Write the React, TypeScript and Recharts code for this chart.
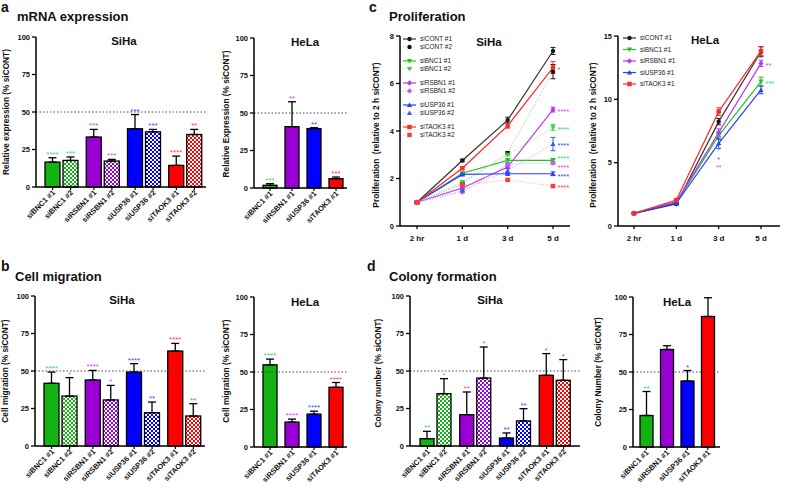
import React from "react";
import {
  BarChart,
  Bar,
  Cell,
  XAxis,
  YAxis,
  ErrorBar,
  ReferenceLine,
  LineChart,
  Line,
} from "recharts";

const FONT = "'Liberation Sans', Arial, Helvetica, sans-serif";

// genes knocked down and their colours
const genes = ["BNC1", "RSBN1", "USP36", "TAOK3"];
const barColors = ["#13b313", "#9a00d4", "#0000ff", "#ff0000"];
const starColors = ["#37d27a", "#e03cf0", "#3a4cff", "#ff3b3b"];
const names1 = genes.map((g) => `si${g} #1`);
const names2 = genes.map((g) => `si${g} #2`);

// a: mRNA expression
const mrnaSiha1 = [16.6, 33.3, 38.8, 14.4];
const mrnaSiha1Err = [2.9, 5.1, 9.5, 6.2];
const mrnaSiha1Stars = ["****", "***", "***", "****"];
const mrnaSiha2 = [17.7, 17.3, 36.8, 35];
const mrnaSiha2Err = [2.3, 1.1, 1.6, 3.4];
const mrnaSiha2Stars = ["***", "***", "***", "**"];
const mrnaHela = [1.8, 40.9, 39.6, 6.2];
const mrnaHelaErr = [1.1, 16.6, 0.6, 1.1];
const mrnaHelaStars = ["***", "**", "**", "***"];

// b: cell migration
const migSiha1 = [41.8, 44, 49.3, 63.3];
const migSiha1Err = [7.5, 6.4, 5.6, 5.1];
const migSiha1Stars = ["****", "****", "****", "****"];
const migSiha2 = [33.3, 30.7, 22.2, 20];
const migSiha2Err = [12.3, 9.7, 7.1, 8.2];
const migSiha2Stars = ["*", "*", "**", "**"];
const migHela = [54.8, 16.6, 21.9, 39.8];
const migHelaErr = [3.8, 2, 2, 3.2];
const migHelaStars = ["****", "****", "****", "****"];

// d: colony formation
const colSiha1 = [4.9, 20.9, 5.3, 47.1];
const colSiha1Err = [4.9, 15.1, 3.4, 14.5];
const colSiha1Stars = ["**", "**", "**", "*"];
const colSiha2 = [34.9, 45.3, 16.7, 43.8];
const colSiha2Err = [10, 20.7, 8.2, 13.8];
const colSiha2Stars = ["*", "*", "**", "*"];
const colHela = [21, 65, 44, 87];
const colHelaErr = [16, 2.5, 7, 12.5];
const colHelaStars = ["**", "", "*", ""];

// c: proliferation
const timePoints = ["2 hr", "1 d", "3 d", "5 d"];
const prolSihaCont1 = [1, 2.76, 4.46, 7.37];
const prolSihaCont2 = [1, 1.78, 3.08, 6.5];
const prolSihaBnc1a = [1, 2.22, 2.76, 2.76];
const prolSihaBnc1b = [1, 1.85, 3.0, 4.15];
const prolSihaRsbn1a = [1, 1.6, 2.48, 4.9];
const prolSihaRsbn1b = [1, 1.43, 2.6, 2.65];
const prolSihaUsp36a = [1, 2.17, 2.2, 2.2];
const prolSihaUsp36b = [1, 1.5, 2.33, 3.45];
const prolSihaTaok3a = [1, 2.43, 4.22, 6.67];
const prolSihaTaok3b = [1, 1.73, 1.94, 1.68];
const prolSihaErrCont1 = [0.03, 0.05, 0.12, 0.15];
const prolSihaErrCont2 = [0.03, 0.04, 0.05, 0.3];
const prolSihaErrBnc1a = [0.02, 0.05, 0.08, 0.08];
const prolSihaErrBnc1b = [0.02, 0.04, 0.05, 0.12];
const prolSihaErrRsbn1a = [0.02, 0.05, 0.05, 0.1];
const prolSihaErrRsbn1b = [0.02, 0.04, 0.05, 0.06];
const prolSihaErrUsp36a = [0.02, 0.05, 0.05, 0.08];
const prolSihaErrUsp36b = [0.02, 0.04, 0.08, 0.28];
const prolSihaErrTaok3a = [0.02, 0.05, 0.1, 0.25];
const prolSihaErrTaok3b = [0.02, 0.04, 0.05, 0.05];
const prolSihaStarsCont = ["", "", "", ""];
const prolSihaStarsTaok3a = ["", "", "", "*"];
const prolSihaStarsKd = ["", "", "", "****"];

const prolHelaCont = [1, 1.74, 8.24, 13.76];
const prolHelaBnc1 = [1, 1.84, 7.13, 11.4];
const prolHelaRsbn1 = [1, 1.92, 7.37, 12.84];
const prolHelaUsp36 = [1, 1.79, 6.53, 10.74];
const prolHelaTaok3 = [1, 2.05, 9.03, 13.8];
const prolHelaErrCont = [0.02, 0.06, 0.25, 0.4];
const prolHelaErrBnc1 = [0.02, 0.06, 0.3, 0.35];
const prolHelaErrRsbn1 = [0.02, 0.06, 0.3, 0.25];
const prolHelaErrUsp36 = [0.02, 0.06, 0.4, 0.3];
const prolHelaErrTaok3 = [0.02, 0.06, 0.3, 0.35];
const prolHelaStarsCont = ["", "", "", ""];
const prolHelaStarsBnc1 = ["", "", "*", "***"];
const prolHelaStarsRsbn1 = ["", "", "**", "**"];
const prolHelaStarsUsp36 = ["", "", "*", ""];
const prolHelaStarsTaok3 = ["", "", "", ""];

type BarSeries = {
  values: number[];
  errs: number[];
  stars: string[];
  names: string[];
  patterned: boolean;
};

const buildBarRows = (series: BarSeries[]) =>
  genes.map((g, i) => {
    const row: any = { gene: g };
    series.forEach((s, k) => {
      row[`v${k}`] = s.values[i];
      row[`e${k}`] = [0, s.errs[i]];
      row[`s${k}`] = s.stars[i];
    });
    return row;
  });

const patId = (id: string, i: number) => `chk_${id}_${i}`;

// checkered fill used for the "#2" siRNAs
const Patterns = ({ id }: { id: string }) => (
  <defs>
    {barColors.map((c, i) => (
      <pattern
        key={i}
        id={patId(id, i)}
        x={0}
        y={0}
        width={4}
        height={4}
        patternUnits="userSpaceOnUse"
      >
        <rect x={0} y={0} width={4} height={4} fill={c} />
        <rect x={0} y={0} width={2} height={2} fill="#ffffff" />
        <rect x={2} y={2} width={2} height={2} fill="#ffffff" />
      </pattern>
    ))}
  </defs>
);

type BarPanelProps = {
  id: string;
  x0: number;
  y0: number;
  x1: number;
  y1: number;
  padL: number;
  padR: number;
  barSize: number;
  series: BarSeries[];
};

const BarPanel = ({ id, x0, y0, x1, y1, padL, padR, barSize, series }: BarPanelProps) => {
  const mt = 20;
  const yw = 40;
  const xh = 70;
  const mr = 4;
  const rows = buildBarRows(series);
  const step = barSize + 3;
  const n = series.length;

  const renderTick = (props: any) => {
    const { x, y, payload } = props;
    const gi = genes.indexOf(payload.value);
    return (
      <g key={`tick-${gi}`}>
        {series.map((s, k) => {
          const cx = x + (k - (n - 1) / 2) * step;
          return (
            <g key={k}>
              <line x1={cx} y1={y} x2={cx} y2={y + 3} stroke="#000" strokeWidth={1.2} />
              <text
                x={cx + 3}
                y={y + 6}
                transform={`rotate(-45 ${cx + 3} ${y + 6})`}
                textAnchor="end"
                fontSize={7.5}
                fontWeight="bold"
                fontFamily={FONT}
                fill="#111"
              >
                {s.names[gi]}
              </text>
            </g>
          );
        })}
      </g>
    );
  };

  const renderShape = (k: number, patterned: boolean) => (props: any) => {
    const { x, y, width, height, index, payload } = props;
    const v = payload[`v${k}`];
    const e = payload[`e${k}`][1];
    const errPx = v > 0 ? (e * height) / v : 0;
    const fill = patterned ? `url(#${patId(id, index)})` : barColors[index];
    return (
      <g>
        <rect x={x} y={y} width={width} height={height} fill={fill} stroke="#000" strokeWidth={1.3} />
        <text
          x={x + width / 2}
          y={y - errPx - 1}
          textAnchor="middle"
          fontSize={8}
          fontFamily={FONT}
          fill={starColors[index]}
        >
          {payload[`s${k}`]}
        </text>
      </g>
    );
  };

  return (
    <div style={{ position: "absolute", left: x0 - yw, top: y0 - mt }}>
      <BarChart
        width={x1 - x0 + yw + mr}
        height={y1 - y0 + mt + xh}
        data={rows}
        margin={{ top: mt, right: mr, left: 0, bottom: 0 }}
        barGap={3}
      >
        <Patterns id={id} />
        <XAxis
          dataKey="gene"
          interval={0}
          height={xh}
          tickLine={false}
          tickSize={0}
          tickMargin={0}
          padding={{ left: padL, right: padR }}
          axisLine={{ stroke: "#000", strokeWidth: 1.5 }}
          tick={renderTick}
        />
        <YAxis
          width={yw}
          type="number"
          domain={[0, 100]}
          ticks={[0, 25, 50, 75, 100]}
          tickSize={4}
          tickMargin={2}
          axisLine={{ stroke: "#000", strokeWidth: 1.5 }}
          tickLine={{ stroke: "#000", strokeWidth: 1.3 }}
          tick={{ fontSize: 7.5, fontWeight: "bold", fill: "#111", fontFamily: FONT }}
        />
        <ReferenceLine y={50} stroke="#444" strokeWidth={1} strokeDasharray="1.5 2" />
        {series.map((s, k) => (
          <Bar
            key={k}
            dataKey={`v${k}`}
            barSize={barSize}
            isAnimationActive={false}
            shape={renderShape(k, s.patterned)}
          >
            {genes.map((g, i) => (
              <Cell key={g} fill={s.patterned ? `url(#${patId(id, i)})` : barColors[i]} />
            ))}
            <ErrorBar dataKey={`e${k}`} width={4} strokeWidth={1.3} stroke="#000" direction="y" />
          </Bar>
        ))}
      </BarChart>
    </div>
  );
};

type LineSeries = {
  name: string;
  values: number[];
  errs: number[];
  stars: string[];
  color: string;
  lineColor: string;
  starColor: string;
  dotted: boolean;
  shape: string;
  starDy?: number;
};

const sihaLines: LineSeries[] = [
  { name: "siCONT #1", values: prolSihaCont1, errs: prolSihaErrCont1, stars: prolSihaStarsCont, color: "#1a1a1a", lineColor: "#333", starColor: "#000", dotted: false, shape: "circle" },
  { name: "siCONT #2", values: prolSihaCont2, errs: prolSihaErrCont2, stars: prolSihaStarsCont, color: "#111", lineColor: "#b4b4b4", starColor: "#000", dotted: true, shape: "circle" },
  { name: "siBNC1 #1", values: prolSihaBnc1a, errs: prolSihaErrBnc1a, stars: prolSihaStarsKd, color: "#22c322", lineColor: "#22c322", starColor: starColors[0], dotted: false, shape: "down", starDy: -3.5 },
  { name: "siBNC1 #2", values: prolSihaBnc1b, errs: prolSihaErrBnc1b, stars: prolSihaStarsKd, color: "#33d633", lineColor: "#9ae89a", starColor: starColors[0], dotted: true, shape: "down" },
  { name: "siRSBN1 #1", values: prolSihaRsbn1a, errs: prolSihaErrRsbn1a, stars: prolSihaStarsKd, color: "#b23cf0", lineColor: "#b23cf0", starColor: starColors[1], dotted: false, shape: "diamond" },
  { name: "siRSBN1 #2", values: prolSihaRsbn1b, errs: prolSihaErrRsbn1b, stars: prolSihaStarsKd, color: "#c45cf2", lineColor: "#dca2f8", starColor: starColors[1], dotted: true, shape: "diamond", starDy: 2.5 },
  { name: "siUSP36 #1", values: prolSihaUsp36a, errs: prolSihaErrUsp36a, stars: prolSihaStarsKd, color: "#2a3cff", lineColor: "#2a3cff", starColor: starColors[2], dotted: false, shape: "up", starDy: 1.5 },
  { name: "siUSP36 #2", values: prolSihaUsp36b, errs: prolSihaErrUsp36b, stars: prolSihaStarsKd, color: "#3a55ff", lineColor: "#a8b4ff", starColor: starColors[2], dotted: true, shape: "up" },
  { name: "siTAOK3 #1", values: prolSihaTaok3a, errs: prolSihaErrTaok3a, stars: prolSihaStarsTaok3a, color: "#ff2a2a", lineColor: "#ff2a2a", starColor: starColors[3], dotted: false, shape: "square" },
  { name: "siTAOK3 #2", values: prolSihaTaok3b, errs: prolSihaErrTaok3b, stars: prolSihaStarsKd, color: "#ff3a3a", lineColor: "#ffacac", starColor: starColors[3], dotted: true, shape: "square" },
];

const helaLines: LineSeries[] = [
  { name: "siCONT #1", values: prolHelaCont, errs: prolHelaErrCont, stars: prolHelaStarsCont, color: "#1a1a1a", lineColor: "#333", starColor: "#000", dotted: false, shape: "circle" },
  { name: "siBNC1 #1", values: prolHelaBnc1, errs: prolHelaErrBnc1, stars: prolHelaStarsBnc1, color: "#22c322", lineColor: "#22c322", starColor: starColors[0], dotted: false, shape: "down", starDy: 13.5 },
  { name: "siRSBN1 #1", values: prolHelaRsbn1, errs: prolHelaErrRsbn1, stars: prolHelaStarsRsbn1, color: "#b23cf0", lineColor: "#b23cf0", starColor: starColors[1], dotted: false, shape: "diamond", starDy: 34 },
  { name: "siUSP36 #1", values: prolHelaUsp36, errs: prolHelaErrUsp36, stars: prolHelaStarsUsp36, color: "#2a3cff", lineColor: "#2a3cff", starColor: starColors[2], dotted: false, shape: "up", starDy: 15 },
  { name: "siTAOK3 #1", values: prolHelaTaok3, errs: prolHelaErrTaok3, stars: prolHelaStarsTaok3, color: "#ff2a2a", lineColor: "#ff2a2a", starColor: starColors[3], dotted: false, shape: "square" },
];

const Marker = ({ shape, cx, cy, color }: { shape: string; cx: number; cy: number; color: string }) => {
  if (shape === "circle") return <circle cx={cx} cy={cy} r={2.2} fill={color} />;
  if (shape === "square") return <rect x={cx - 2.2} y={cy - 2.2} width={4.4} height={4.4} fill={color} />;
  if (shape === "down")
    return <polygon points={`${cx - 2.6},${cy - 2} ${cx + 2.6},${cy - 2} ${cx},${cy + 2.5}`} fill={color} />;
  if (shape === "up")
    return <polygon points={`${cx - 2.6},${cy + 2} ${cx + 2.6},${cy + 2} ${cx},${cy - 2.5}`} fill={color} />;
  return <polygon points={`${cx},${cy - 2.8} ${cx + 2.6},${cy} ${cx},${cy + 2.8} ${cx - 2.6},${cy}`} fill={color} />;
};

type LinePanelProps = {
  x0: number;
  y0: number;
  x1: number;
  y1: number;
  padL: number;
  padR: number;
  yMax: number;
  yTicks: number[];
  series: LineSeries[];
  belowAt3d: boolean;
};

const LinePanel = ({ x0, y0, x1, y1, padL, padR, yMax, yTicks, series, belowAt3d }: LinePanelProps) => {
  const mt = 15;
  const yw = 40;
  const xh = 30;
  const mr = 4;
  const rows = timePoints.map((t, i) => {
    const row: any = { t };
    series.forEach((s, k) => {
      row[`v${k}`] = s.values[i];
      row[`e${k}`] = s.errs[i];
    });
    return row;
  });

  const renderDot = (s: LineSeries, k: number) => (props: any) => {
    const { cx, cy, index } = props;
    const star = s.stars[index];
    let starEl = null;
    if (star) {
      if (belowAt3d && index === 2) {
        starEl = (
          <text x={cx} y={cy + (s.starDy || 0) + 3.5} textAnchor="middle" fontSize={7} fontFamily={FONT} fill={s.starColor}>
            {star}
          </text>
        );
      } else {
        const dy = belowAt3d ? 0 : s.starDy || 0;
        starEl = (
          <text x={cx + 4.5} y={cy + dy + 4.2} textAnchor="start" fontSize={7.5} fontFamily={FONT} fill={s.starColor}>
            {star}
          </text>
        );
      }
    }
    return (
      <g key={`d-${k}-${index}`}>
        <Marker shape={s.shape} cx={cx} cy={cy} color={s.color} />
        {starEl}
      </g>
    );
  };

  return (
    <div style={{ position: "absolute", left: x0 - yw, top: y0 - mt }}>
      <LineChart
        width={x1 - x0 + yw + mr}
        height={y1 - y0 + mt + xh}
        data={rows}
        margin={{ top: mt, right: mr, left: 0, bottom: 0 }}
      >
        <XAxis
          dataKey="t"
          scale="point"
          interval={0}
          height={xh}
          padding={{ left: padL, right: padR }}
          tickSize={3}
          tickMargin={6}
          axisLine={{ stroke: "#000", strokeWidth: 1.5 }}
          tickLine={{ stroke: "#000", strokeWidth: 1.3 }}
          tick={{ fontSize: 8, fontWeight: "bold", fill: "#111", fontFamily: FONT }}
        />
        <YAxis
          width={yw}
          type="number"
          domain={[0, yMax]}
          ticks={yTicks}
          tickSize={4}
          tickMargin={2}
          axisLine={{ stroke: "#000", strokeWidth: 1.5 }}
          tickLine={{ stroke: "#000", strokeWidth: 1.3 }}
          tick={{ fontSize: 7.5, fontWeight: "bold", fill: "#111", fontFamily: FONT }}
        />
        {series.map((s, k) => (
          <Line
            key={s.name}
            dataKey={`v${k}`}
            stroke={s.lineColor}
            strokeWidth={s.dotted ? 1 : 1.2}
            strokeDasharray={s.dotted ? "1 1.6" : undefined}
            dot={renderDot(s, k)}
            activeDot={false}
            isAnimationActive={false}
          >
            <ErrorBar dataKey={`e${k}`} width={2.5} strokeWidth={1} stroke={s.color} direction="y" />
          </Line>
        ))}
      </LineChart>
    </div>
  );
};

const Legend = ({ x, y, series, rowStep, groupGap }: { x: number; y: number; series: LineSeries[]; rowStep: number; groupGap: number }) => (
  <g>
    {series.map((s, k) => {
      const ry = y + k * rowStep + (groupGap ? Math.floor(k / 2) * groupGap : 0);
      return (
        <g key={s.name}>
          <line
            x1={x}
            y1={ry}
            x2={x + 13}
            y2={ry}
            stroke={s.lineColor}
            strokeWidth={s.dotted ? 1 : 1.2}
            strokeDasharray={s.dotted ? "1 1.6" : undefined}
          />
          <Marker shape={s.shape} cx={x + 6.5} cy={ry} color={s.color} />
          <text x={x + 17} y={ry + 2.3} fontSize={6.5} fontFamily={FONT} fill="#222">
            {s.name}
          </text>
        </g>
      );
    })}
  </g>
);

const YTitle = ({ x, y, text }: { x: number; y: number; text: string }) => (
  <text
    x={x}
    y={y}
    transform={`rotate(-90 ${x} ${y})`}
    textAnchor="middle"
    fontSize={8.3}
    fontWeight="bold"
    fontFamily={FONT}
    fill="#111"
    style={{ whiteSpace: "pre" }}
  >
    {text}
  </text>
);

const T = ({ x, y, size, children, anchor }: { x: number; y: number; size: number; children: any; anchor?: string }) => (
  <text x={x} y={y} fontSize={size} fontWeight="bold" fontFamily={FONT} fill="#111" textAnchor={anchor || "start"}>
    {children}
  </text>
);

const App = () => {
  return (
    <div
      style={{
        position: "absolute",
        left: 0,
        top: 0,
        width: 790,
        height: 492,
        background: "#fff",
        fontFamily: FONT,
        overflow: "hidden",
      }}
    >
      <BarPanel
        id="as"
        x0={36}
        y0={37}
        x1={206}
        y1={187}
        padL={5}
        padR={0}
        barSize={15}
        series={[
          { values: mrnaSiha1, errs: mrnaSiha1Err, stars: mrnaSiha1Stars, names: names1, patterned: false },
          { values: mrnaSiha2, errs: mrnaSiha2Err, stars: mrnaSiha2Stars, names: names2, patterned: true },
        ]}
      />
      <BarPanel
        id="ah"
        x0={254}
        y0={38}
        x1={347}
        y1={188}
        padL={5}
        padR={0}
        barSize={14}
        series={[{ values: mrnaHela, errs: mrnaHelaErr, stars: mrnaHelaStars, names: names1, patterned: false }]}
      />
      <BarPanel
        id="bs"
        x0={35}
        y0={296}
        x1={205}
        y1={446}
        padL={5}
        padR={0}
        barSize={15}
        series={[
          { values: migSiha1, errs: migSiha1Err, stars: migSiha1Stars, names: names1, patterned: false },
          { values: migSiha2, errs: migSiha2Err, stars: migSiha2Stars, names: names2, patterned: true },
        ]}
      />
      <BarPanel
        id="bh"
        x0={254}
        y0={297}
        x1={347}
        y1={447}
        padL={5}
        padR={0}
        barSize={14}
        series={[{ values: migHela, errs: migHelaErr, stars: migHelaStars, names: names1, patterned: false }]}
      />
      <BarPanel
        id="ds"
        x0={410}
        y0={296}
        x1={580}
        y1={446}
        padL={6}
        padR={5}
        barSize={14}
        series={[
          { values: colSiha1, errs: colSiha1Err, stars: colSiha1Stars, names: names1, patterned: false },
          { values: colSiha2, errs: colSiha2Err, stars: colSiha2Stars, names: names2, patterned: true },
        ]}
      />
      <BarPanel
        id="dh"
        x0={633}
        y0={297}
        x1={720}
        y1={447}
        padL={3}
        padR={2}
        barSize={13}
        series={[{ values: colHela, errs: colHelaErr, stars: colHelaStars, names: names1, patterned: false }]}
      />
      <LinePanel
        x0={400}
        y0={36}
        x1={570}
        y1={226}
        padL={17}
        padR={17}
        yMax={8}
        yTicks={[0, 2, 4, 6, 8]}
        series={sihaLines}
        belowAt3d={false}
      />
      <LinePanel
        x0={618}
        y0={36}
        x1={780}
        y1={226}
        padL={16}
        padR={19}
        yMax={15}
        yTicks={[0, 5, 10, 15]}
        series={helaLines}
        belowAt3d={true}
      />
      <svg
        width={790}
        height={492}
        style={{ position: "absolute", left: 0, top: 0, pointerEvents: "none" }}
      >
        <T x={1} y={12} size={14}>a</T>
        <T x={17} y={21} size={13}>mRNA expression</T>
        <T x={124} y={45} size={11.5} anchor="middle">SiHa</T>
        <T x={305} y={46} size={11.5} anchor="middle">HeLa</T>
        <YTitle x={9} y={112} text="Relative expression (% siCONT)" />
        <YTitle x={229} y={114} text="Relative Expression (% siCONT)" />

        <T x={1} y={271} size={14}>b</T>
        <T x={15} y={281} size={13}>Cell migration</T>
        <T x={122} y={304} size={11.5} anchor="middle">SiHa</T>
        <T x={305} y={306} size={11.5} anchor="middle">HeLa</T>
        <YTitle x={8} y={371} text="Cell migration (% siCONT)" />
        <YTitle x={229} y={371} text="Cell migration (% siCONT)" />

        <T x={369} y={12} size={14}>c</T>
        <T x={389} y={21} size={13}>Proliferation</T>
        <T x={489} y={46} size={11.5} anchor="middle">SiHa</T>
        <T x={705} y={44} size={11.5} anchor="middle">HeLa</T>
        <YTitle x={379} y={135} text="Proliferation  (relative to 2 h siCONT)" />
        <YTitle x={596} y={135} text="Proliferation  (relative to 2 h siCONT)" />
        <Legend x={403} y={39} series={sihaLines} rowStep={8} groupGap={6} />
        <Legend x={623} y={38} series={helaLines} rowStep={11.5} groupGap={0} />

        <T x={367} y={271} size={14}>d</T>
        <T x={389} y={281} size={13}>Colony formation</T>
        <T x={490} y={304} size={11.5} anchor="middle">SiHa</T>
        <T x={677} y={306} size={11.5} anchor="middle">HeLa</T>
        <YTitle x={381} y={373} text="Colony number (% siCONT)" />
        <YTitle x={601} y={372} text="Colony Number (% siCONT)" />
      </svg>
    </div>
  );
};

export default App;
